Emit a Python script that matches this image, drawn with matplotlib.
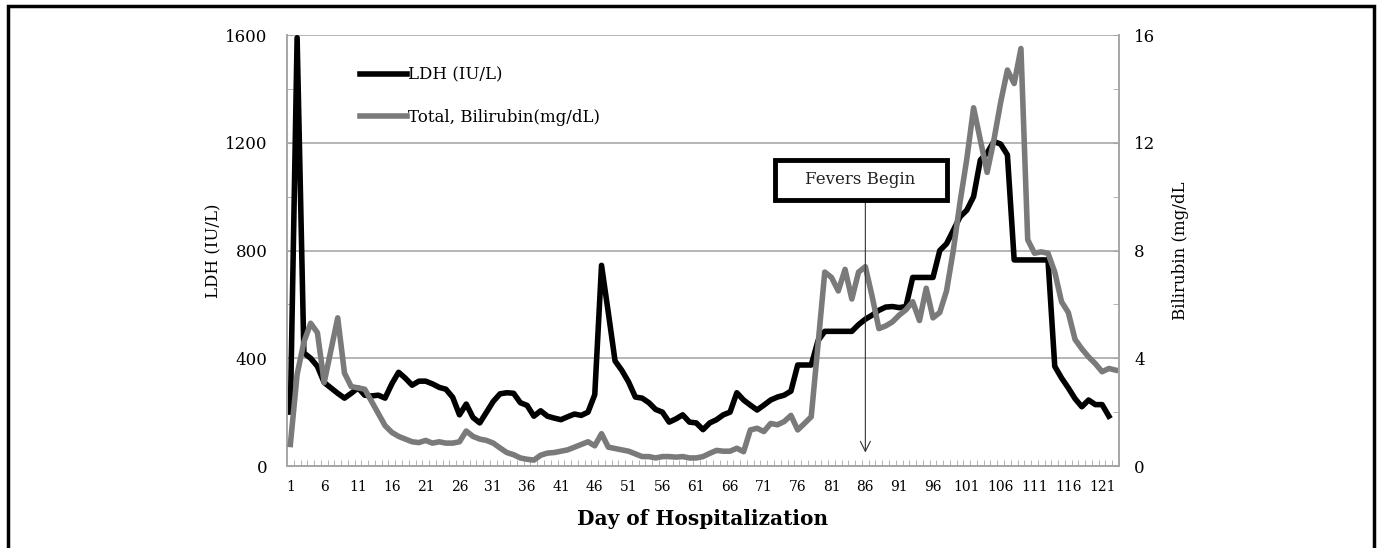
import numpy as np
import matplotlib
matplotlib.use('Agg')
import matplotlib.pyplot as plt
from matplotlib.patches import Rectangle
from matplotlib.ticker import FixedLocator, MultipleLocator

# Day of hospitalization (categories), LDH in IU/L, total bilirubin in mg/dL
days = np.arange(1, 124)
ldh = [200, 1590, 420, 400, 370, 310, 290, 270, 252, 270,
       290, 263, 260, 263, 252, 305, 348, 326, 300, 315,
       315, 305, 292, 285, 255, 190, 230, 180, 160, 200,
       240, 268, 272, 270, 235, 225, 185, 205, 185, 178,
       172, 183, 193, 188, 200, 265, 745, 570, 390, 355,
       312, 256, 252, 235, 210, 200, 163, 175, 190, 163,
       160, 135, 160, 172, 190, 200, 272, 245, 226, 208,
       226, 245, 256, 263, 278, 375, 375, 375, 465, 500,
       500, 500, 500, 500, 525, 545, 560, 578, 590, 592,
       588, 592, 700, 700, 700, 700, 800, 825, 875, 925,
       950, 1000, 1136, 1162, 1205, 1195, 1155, 765, 765, 765,
       765, 765, 765, 370, 327, 290, 250, 220, 245, 228,
       228, 185]
bili = [0.8, 3.4, 4.6, 5.3, 4.95, 3.1, 4.3, 5.5, 3.45, 2.95,
        2.9, 2.85, 2.4, 1.95, 1.5, 1.25, 1.1, 1.0, 0.9, 0.87,
        0.95, 0.85, 0.9, 0.85, 0.85, 0.9, 1.3, 1.1, 1.0, 0.95,
        0.85, 0.67, 0.5, 0.42, 0.3, 0.25, 0.22, 0.4, 0.48, 0.5,
        0.55, 0.6, 0.7, 0.8, 0.9, 0.75, 1.2, 0.7, 0.65, 0.6,
        0.55, 0.45, 0.35, 0.35, 0.3, 0.35, 0.35, 0.33, 0.35, 0.3,
        0.3, 0.35, 0.47, 0.58, 0.55, 0.55, 0.66, 0.53, 1.34, 1.4,
        1.28, 1.58, 1.53, 1.65, 1.88, 1.34, 1.58, 1.83, 4.5, 7.2,
        7.0, 6.5, 7.3, 6.2, 7.2, 7.4, 6.3, 5.1, 5.2, 5.35,
        5.6, 5.8, 6.1, 5.4, 6.6, 5.5, 5.7, 6.5, 8.0, 9.8,
        11.4, 13.3, 12.1, 10.9, 12.1, 13.5, 14.7, 14.2, 15.5, 8.4,
        7.9, 7.95, 7.9, 7.2, 6.1, 5.7, 4.7, 4.35, 4.05, 3.8,
        3.5, 3.62, 3.56]
xlabels = days[::5]
fever_day = 86

plt.rcParams['font.family'] = 'DejaVu Serif'
axcol = '#a6a6a6'

fig = plt.figure(figsize=(13.81, 5.48), dpi=100)
ax = fig.add_axes([0.2078, 0.1496, 0.6025, 0.7865])
ax2 = ax.twinx()

l1, = ax.plot(days[:len(ldh)], ldh, color='black', lw=4)
l2, = ax2.plot(days, bili, color='#7a7a7a', lw=4)

ax.set_xlim(0.5, len(days) + 0.5)
ax.set_ylim(0, 1600)
ax2.set_ylim(0, 16)

ax.yaxis.set_major_locator(MultipleLocator(400))
ax.yaxis.set_minor_locator(MultipleLocator(200))
ax2.yaxis.set_major_locator(MultipleLocator(4))
ax2.yaxis.set_minor_locator(MultipleLocator(2))
ax.set_xticks(xlabels)
ax.set_xticklabels([str(d) for d in xlabels])
ax.xaxis.set_minor_locator(FixedLocator(np.arange(0.5, len(days) + 1, 1)))

ax.yaxis.grid(True, color='#b5b5b5', lw=1.4)
ax.set_axisbelow(True)

for s in ['top', 'right']:
    ax.spines[s].set_visible(False)
for s in ['top', 'left', 'bottom']:
    ax2.spines[s].set_visible(False)
for s in [ax.spines['left'], ax.spines['bottom'], ax2.spines['right']]:
    s.set_color(axcol)
    s.set_linewidth(1.4)

ax.tick_params(axis='y', which='both', direction='in', length=4, color=axcol,
               pad=14, labelsize=12)
ax2.tick_params(axis='y', which='both', direction='in', length=4, color=axcol,
                pad=11, labelsize=12)
ax.tick_params(axis='x', which='major', length=0, pad=10, labelsize=10)
ax.tick_params(axis='x', which='minor', direction='in', length=4, color=axcol)

ax.set_ylabel('LDH (IU/L)', fontsize=12)
ax.yaxis.set_label_coords(-0.078, 0.5)
ax2.set_ylabel('Bilirubin (mg/dL', fontsize=12)
ax2.yaxis.set_label_coords(1.064, 0.5)
ax.set_xlabel('Day of Hospitalization', fontsize=14.5, fontweight='bold')
ax.xaxis.set_label_coords(0.5, -0.1)

ax.legend([l1, l2], ['LDH (IU/L)', 'Total, Bilirubin(mg/dL)'], loc='upper left',
          bbox_to_anchor=(0.088, 0.927), frameon=False, handlelength=2.8,
          handletextpad=0.05, labelspacing=1.55, fontsize=12, borderpad=0,
          borderaxespad=0)

# "Fevers Begin" box and arrow (drawn on the bilirubin axis so it is on top)
ax2.add_patch(Rectangle((72.7, 9.87), 25.3, 1.49, fc='white', ec='black', lw=3.5,
                        zorder=5))
ax2.text(85.3, 10.62, 'Fevers Begin', ha='center', va='center', fontsize=12,
         color='#222222', zorder=6)
ax2.annotate('', xy=(fever_day, 0.5), xytext=(fever_day, 9.87),
             arrowprops=dict(arrowstyle='->', lw=0.8, color='#333333',
                             shrinkA=0, shrinkB=0, mutation_scale=18), zorder=4)

fig.add_artist(Rectangle((8 / 1381, -0.05), 1366 / 1381, 1.05 - 6 / 548,
                         transform=fig.transFigure, fill=False, ec='black', lw=2.5))

fig.savefig('out.png', dpi=100)
